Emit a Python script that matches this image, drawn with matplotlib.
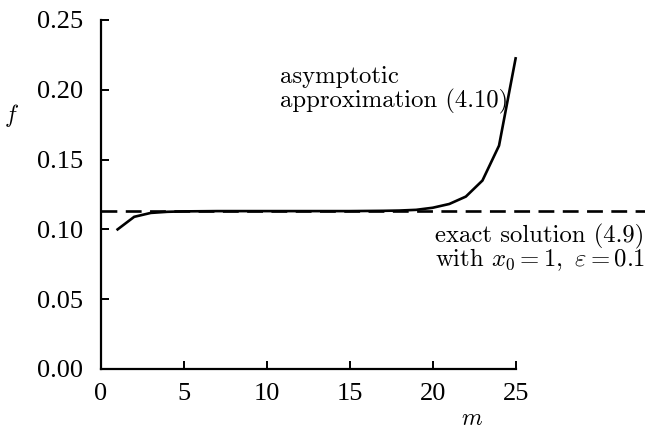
import matplotlib
matplotlib.use("Agg")
import matplotlib.pyplot as plt
import numpy as np

plt.rcParams['mathtext.fontset'] = 'cm'
plt.rcParams['font.family'] = 'serif'
plt.rcParams['font.serif'] = ['Liberation Serif', 'DejaVu Serif']

# asymptotic approximation (4.10) at m = 1..25
m = np.arange(1, 26)
f_asym = [0.1000, 0.1090, 0.1118, 0.1126, 0.1129, 0.1130, 0.1131, 0.1131, 0.1131,
          0.1131, 0.1131, 0.1131, 0.1131, 0.1131, 0.1131, 0.1132, 0.1133, 0.1135,
          0.1140, 0.1155, 0.1182, 0.1235, 0.1350, 0.1600, 0.2225]
# exact solution (4.9)
m_exact = [0, 32.8]
f_exact = [0.1132, 0.1132]

fig = plt.figure(figsize=(6.53, 4.30), dpi=100)
ax = fig.add_axes([0.1547, 0.1419, 0.833, 0.8116])

ax.plot(m, f_asym, color='k', lw=1.9, solid_joinstyle='miter')
ax.plot(m_exact, f_exact, color='k', lw=1.9, dashes=(6, 3.2))

ax.set_xlim(0, 32.8)
ax.set_ylim(0, 0.25)
ax.spines['top'].set_visible(False)
ax.spines['right'].set_visible(False)
ax.spines['bottom'].set_bounds(0, 25)
for s in ['left', 'bottom']:
    ax.spines[s].set_linewidth(1.6)
ax.set_xticks([0, 5, 10, 15, 20, 25])
ax.set_yticks([0, 0.05, 0.10, 0.15, 0.20, 0.25])
ax.set_yticklabels(['0.00', '0.05', '0.10', '0.15', '0.20', '0.25'])
ax.tick_params(direction='in', length=6, width=1.4, labelsize=19)
ax.tick_params(axis='y', pad=13)
ax.tick_params(axis='x', pad=10)

fig.text(0.723, 0.012, '$m$', fontsize=17, ha='center')
fig.text(0.018, 0.716, '$f$', fontsize=17, ha='center')

ax.text(10.78, 0.2049, 'asymptotic', fontsize=17.8, fontfamily='cmr10')
ax.text(10.78, 0.1877, 'approximation (4.10)', fontsize=17.8, fontfamily='cmr10')
ax.text(20.12, 0.0905, 'exact solution (4.9)', fontsize=17.8, fontfamily='cmr10')
ax.text(20.12, 0.0733, r'with $x_0 = 1,\ \varepsilon = 0.1$', fontsize=17.8, fontfamily='cmr10')

fig.savefig('out.png', dpi=100)
